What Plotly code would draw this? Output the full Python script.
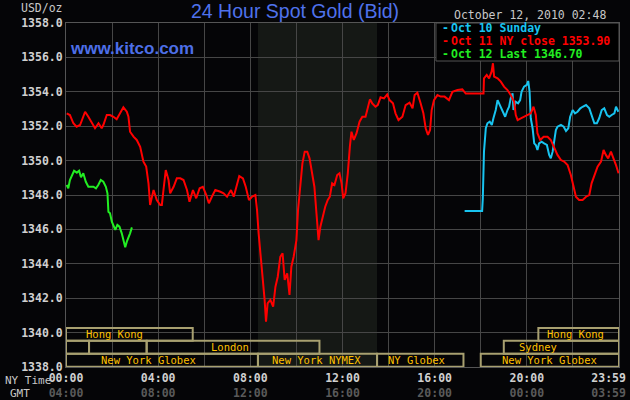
import plotly.graph_objects as go

# hours after midnight (NY time), bid in USD/oz
oct11_hours = [0.03, 0.17, 0.32, 0.46, 0.61, 0.83, 0.97, 1.12, 1.26, 1.41, 1.55, 1.62, 1.77, 1.91,
               2.06, 2.20, 2.35, 2.49, 2.64, 2.71, 2.78, 2.93, 3.07, 3.22, 3.36, 3.48, 3.58, 3.65,
               3.80, 3.94, 4.09, 4.16, 4.23, 4.33, 4.45, 4.52, 4.67, 4.81, 4.96, 5.10, 5.25, 5.36,
               5.51, 5.65, 5.80, 5.94, 6.09, 6.20, 6.33, 6.48, 6.70, 6.84, 6.99, 7.16, 7.28, 7.42,
               7.52, 7.68, 7.80, 7.94, 8.07, 8.22, 8.29, 8.36, 8.47, 8.55, 8.62, 8.68, 8.75, 8.87,
               8.99, 9.09, 9.19, 9.30, 9.40, 9.49, 9.60, 9.70, 9.78, 9.88, 10.00, 10.07, 10.17,
               10.26, 10.36, 10.47, 10.57, 10.68, 10.78, 10.87, 10.96, 11.04, 11.13, 11.25, 11.36,
               11.45, 11.55, 11.65, 11.77, 11.87, 11.96, 12.03, 12.13, 12.23, 12.32, 12.39, 12.49,
               12.61, 12.74, 12.86, 13.00, 13.10, 13.19, 13.29, 13.43, 13.53, 13.65, 13.80, 13.94,
               14.04, 14.19, 14.30, 14.43, 14.60, 14.74, 14.91, 15.04, 15.13, 15.25, 15.39, 15.51,
               15.61, 15.71, 15.80, 15.87, 15.97, 16.12, 16.26, 16.43, 16.62, 16.77, 16.99, 17.20,
               17.35, 18.12, 18.14, 18.26, 18.36, 18.47, 18.53, 18.58, 18.73, 18.87, 19.01, 19.16,
               19.30, 19.45, 19.52, 19.60, 19.74, 19.88, 20.03, 20.17, 20.29, 20.39, 20.46, 20.58,
               20.73, 20.90, 21.04, 21.19, 21.33, 21.48, 21.62, 21.77, 21.91, 22.03, 22.13, 22.27,
               22.42, 22.57, 22.71, 22.81, 22.93, 23.07, 23.22, 23.33, 23.43, 23.53, 23.65, 23.77,
               23.87, 23.98]
oct11_bid = [1352.75, 1352.65, 1352.17, 1351.97, 1352.07, 1352.84, 1352.55, 1352.17, 1351.88, 1352.17,
             1351.88, 1352.07, 1352.65, 1352.65, 1352.55, 1352.40, 1352.75, 1353.10, 1352.84, 1352.55,
             1351.68, 1351.39, 1351.20, 1350.80, 1349.94, 1349.65, 1348.68, 1347.42, 1348.29, 1347.71,
             1347.42, 1347.42, 1348.29, 1349.45, 1348.87, 1348.10, 1348.48, 1348.97, 1348.97, 1348.87,
             1348.29, 1347.61, 1348.29, 1347.81, 1348.39, 1348.48, 1348.00, 1347.52, 1347.90, 1348.29,
             1348.19, 1348.10, 1347.90, 1348.29, 1347.90, 1348.58, 1349.10, 1348.97, 1348.48, 1347.71,
             1347.90, 1348.00, 1347.13, 1345.77, 1344.03, 1343.25, 1341.90, 1340.63, 1341.70, 1341.90,
             1341.51, 1342.67, 1343.25, 1344.41, 1344.61, 1343.06, 1343.45, 1342.19, 1343.83, 1344.41,
             1345.38, 1347.13, 1348.68, 1349.84, 1350.52, 1350.52, 1350.13, 1349.26, 1348.48, 1346.94,
             1345.38, 1346.16, 1346.74, 1347.32, 1347.71, 1347.90, 1348.68, 1348.58, 1349.16, 1349.26,
             1348.68, 1347.81, 1348.10, 1349.26, 1350.81, 1351.68, 1351.20, 1351.59, 1352.26, 1352.55,
             1352.55, 1353.13, 1353.56, 1353.33, 1353.13, 1353.23, 1353.68, 1353.62, 1353.85, 1353.52,
             1353.33, 1352.75, 1352.36, 1352.55, 1353.23, 1353.37, 1353.04, 1353.81, 1353.95, 1353.33,
             1352.75, 1351.88, 1351.49, 1351.78, 1352.94, 1353.52, 1353.81, 1353.72, 1353.72, 1353.52,
             1354.00, 1354.10, 1354.14, 1353.90, 1353.90, 1354.78, 1354.98, 1354.78, 1355.17, 1355.66,
             1354.88, 1354.78, 1354.59, 1354.30, 1354.10, 1353.81, 1353.42, 1352.65, 1352.36, 1352.46,
             1352.55, 1352.65, 1352.75, 1353.13, 1352.65, 1351.59, 1351.20, 1351.39, 1351.39, 1351.20,
             1350.71, 1350.33, 1350.03, 1349.94, 1349.74, 1349.16, 1348.48, 1347.90, 1347.71, 1347.71,
             1347.90, 1348.00, 1348.68, 1349.16, 1349.65, 1349.94, 1350.62, 1350.33, 1350.13, 1350.52,
             1350.13, 1349.74, 1349.26]

oct10_hours = [17.30, 18.06, 18.09, 18.14, 18.22, 18.29, 18.39, 18.48, 18.55, 18.65, 18.73, 18.83,
               18.94, 19.06, 19.16, 19.23, 19.30, 19.38, 19.42, 19.52, 19.62, 19.71, 19.77, 19.88,
               20.00, 20.06, 20.12, 20.17, 20.25, 20.32, 20.39, 20.46, 20.53, 20.64, 20.75, 20.87,
               20.97, 21.04, 21.12, 21.19, 21.26, 21.33, 21.48, 21.60, 21.70, 21.80, 21.88, 21.99,
               22.09, 22.20, 22.32, 22.42, 22.57, 22.71, 22.81, 22.93, 23.04, 23.14, 23.25, 23.36,
               23.48, 23.58, 23.68, 23.80, 23.87, 23.97]
oct10_bid = [1347.07, 1347.07, 1347.81, 1350.52, 1351.88, 1352.17, 1352.26, 1352.07, 1352.46, 1352.94,
             1353.52, 1353.23, 1352.94, 1352.55, 1352.94, 1353.13, 1353.62, 1353.91, 1352.94, 1353.42,
             1353.33, 1353.52, 1354.00, 1354.30, 1354.40, 1354.63, 1354.00, 1352.46, 1351.88, 1351.00,
             1350.91, 1350.62, 1351.00, 1351.10, 1351.00, 1350.91, 1350.33, 1350.13, 1350.52, 1351.20,
             1351.78, 1351.97, 1352.07, 1351.97, 1351.72, 1351.88, 1352.55, 1352.94, 1352.75, 1352.84,
             1353.04, 1353.13, 1353.23, 1353.04, 1352.65, 1352.17, 1352.17, 1352.46, 1352.94, 1353.04,
             1352.65, 1352.55, 1352.65, 1352.75, 1353.13, 1352.84]

oct12_hours = [0.03, 0.10, 0.17, 0.25, 0.35, 0.47, 0.57, 0.65, 0.75, 0.86, 0.97, 1.09, 1.19, 1.30,
               1.40, 1.51, 1.62, 1.73, 1.80, 1.84, 1.91, 1.99, 2.06, 2.14, 2.23, 2.32, 2.42, 2.49,
               2.57, 2.64, 2.71, 2.78, 2.86]
oct12_bid = [1348.58, 1348.39, 1348.87, 1349.16, 1349.41, 1349.30, 1349.41, 1349.03, 1349.26, 1348.77,
             1348.48, 1348.48, 1348.48, 1348.39, 1348.58, 1348.87, 1348.77, 1348.48, 1348.10, 1347.03,
             1346.94, 1346.45, 1346.16, 1345.97, 1346.26, 1346.16, 1345.77, 1345.38, 1344.96, 1345.29,
             1345.48, 1345.77, 1346.12]

series_names = ["Oct 10 Sunday", "Oct 11 NY close 1353.90", "Oct 12 Last 1346.70"]
series_colors = ["#18c4f0", "#ff0000", "#22ee22"]

tick_hours = [0, 4, 8, 12, 16, 20, 24]
ny_labels = ["00:00", "04:00", "08:00", "12:00", "16:00", "20:00", "23:59"]
gmt_labels = ["04:00", "08:00", "12:00", "16:00", "20:00", "00:00", "03:59"]

# trading sessions shown along the bottom (row 0 = top)
session_names = ["Hong Kong", "", "", "London", "Sydney", "Hong Kong",
                 "New York Globex", "New York NYMEX", "NY Globex", "New York Globex"]
session_start = [0, 0, 1.0, 3.5, 19.0, 20.5, 0, 8.33, 13.5, 18.0]
session_end = [5.5, 1.0, 3.5, 11.0, 24, 24, 8.33, 13.5, 17.25, 24]
session_row = [0, 1, 1, 1, 1, 0, 2, 2, 2, 2]
session_label_at = [2.1, 0, 0, 7.1, 20.5, 22.1, 3.6, 10.85, 15.2, 21.0]

nymex_open, nymex_close = 8.33, 13.5

mono = "DejaVu Sans Mono"
fig = go.Figure()

fig.add_shape(type="rect", xref="x", yref="paper", x0=nymex_open, x1=nymex_close, y0=0, y1=1,
              fillcolor="#151815", line_width=0, layer="below")

for hrs, bid, name, col in zip([oct10_hours, oct11_hours, oct12_hours],
                                [oct10_bid, oct11_bid, oct12_bid], series_names, series_colors):
    fig.add_trace(go.Scatter(x=hrs, y=bid, mode="lines", name=name, hoverinfo="skip",
                             line=dict(color=col, width=2), showlegend=False))

row_h = 0.75
for name, s, e, r, lx in zip(session_names, session_start, session_end, session_row, session_label_at):
    top = 1338 + row_h * (3 - r) + 0.02
    bot = top - row_h
    fig.add_shape(type="rect", xref="x", yref="y", x0=s, x1=e, y0=bot, y1=top,
                  line=dict(color="#a8a070", width=2))
    if name:
        fig.add_annotation(x=lx, y=(top + bot) / 2, xref="x", yref="y", text=name, showarrow=False,
                           xanchor="center", yanchor="middle",
                           font=dict(family=mono, size=10.5, color="#ffc000"))


def note(x, y, text, size, color, xanchor="left", family=mono, weight="normal"):
    fig.add_annotation(x=x, y=y, xref="paper", yref="paper", text=text, showarrow=False,
                       xanchor=xanchor, yanchor="middle",
                       font=dict(family=family, size=size, color=color, weight=weight))


# legend box
fig.add_shape(type="rect", xref="paper", yref="paper", x0=0.669, x1=1.0, y0=0.8895, y1=1.0,
              fillcolor="#000000", line=dict(color="#555555", width=1))
for i, (name, col) in enumerate(zip(series_names, series_colors)):
    yy = 0.9855 - i * 0.0378
    note(0.677, yy, "-", 11.5, col, weight="bold")
    note(0.693, yy, name, 11.5, col, weight="bold")

note(0.414, 1.036, "24 Hour Spot Gold (Bid)", 19.5, "#4f72ec", xanchor="center", family="Liberation Sans")
note(0.003, 0.927, "www.kitco.com", 17, "#4d6fe8", family="Liberation Sans", weight="bold")
note(0.98, 1.024, "October 12, 2010 02:48", 11.5, "#c8c8c8", xanchor="right")
note(-0.085, 1.044, "USD/oz", 11.5, "#c8c8c8")
note(-0.114, -0.038, "NY Time", 11, "#c8c8c8")
note(-0.083, -0.076, "GMT", 11, "#c8c8c8", xanchor="center")

ticktext = [f"<b>{a}</b><br><span style='color:#5a5a5a'><b>{b}</b></span>"
            for a, b in zip(ny_labels, gmt_labels)]
# the last label sits inside the right edge
ticktext[-1] = f"<b>{ny_labels[-1]}</b>&nbsp;&nbsp;&nbsp;<br><span style='color:#5a5a5a'><b>{gmt_labels[-1]}</b></span>&nbsp;&nbsp;&nbsp;"

fig.update_xaxes(range=[0, 24], tickvals=tick_hours, ticktext=ticktext, automargin=False,
                 ticklabeloverflow="allow",
                 tickfont=dict(family=mono, size=11.5, color="#d0d0d0"),
                 showgrid=True, gridcolor="#464646", gridwidth=1,
                 minor=dict(dtick=2, showgrid=True, gridcolor="#464646"),
                 showline=True, linecolor="#555555", mirror=True, zeroline=False, ticks="")
fig.update_yaxes(range=[1338, 1358], dtick=2, tickformat=".1f", automargin=False,
                 tickfont=dict(family=mono, size=11.5, color="#d0d0d0", weight="bold"),
                 showgrid=True, gridcolor="#464646", gridwidth=1,
                 showline=True, linecolor="#555555", mirror=True, zeroline=False, ticks="")

fig.update_layout(width=630, height=400, margin=dict(l=66, r=11, t=23, b=33),
                  paper_bgcolor="#050507", plot_bgcolor="#050507", showlegend=False,
                  hovermode=False)

fig.write_html("out.html", config={"displayModeBar": False},
               post_script="document.body.style.margin='0';")
